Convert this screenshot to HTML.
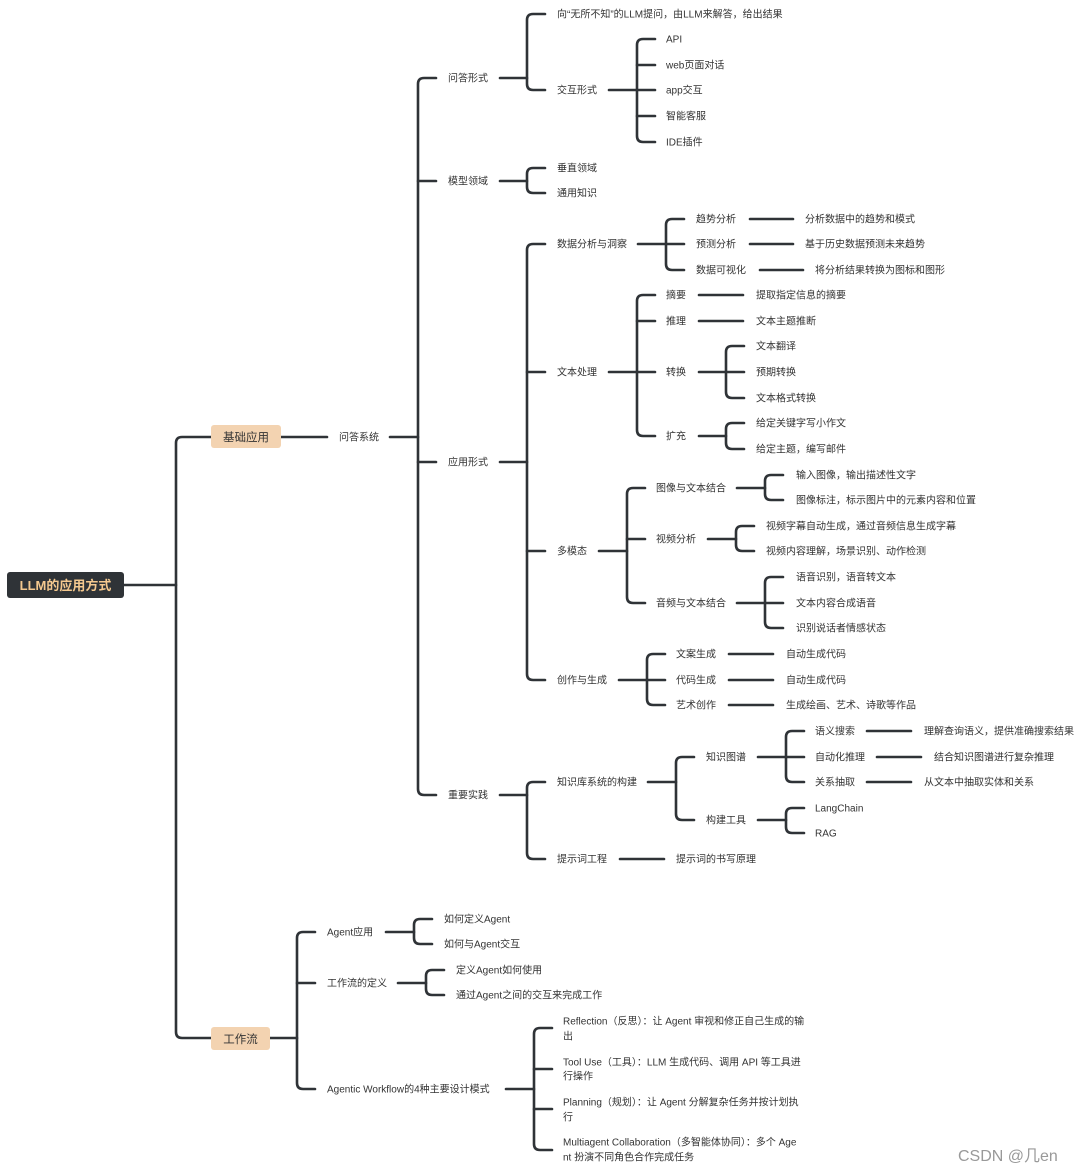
<!DOCTYPE html>
<html><head><meta charset="utf-8">
<style>
html,body{margin:0;padding:0;background:#fff;}
svg{display:block;}
text{font-family:"Liberation Sans","Noto Sans CJK SC",sans-serif;font-size:10px;fill:#333;}
</style></head>
<body>
<svg id="s" width="1080" height="1172" viewBox="0 0 1080 1172" xmlns="http://www.w3.org/2000/svg">
<g id="lines" fill="none" stroke="#2f3337" stroke-width="2.6" stroke-linecap="round"></g>
<g id="txt"></g>
<rect x="7" y="572" width="117" height="26" rx="3" fill="#2f3337"/>
<text x="65.5" y="590" text-anchor="middle" style="font-size:13px;font-weight:bold;fill:#f5c98f">LLM的应用方式</text>
<rect x="211" y="425" width="70" height="23" rx="3" fill="#f3d3b1"/>
<text x="246" y="441" text-anchor="middle" style="font-size:11.5px">基础应用</text>
<rect x="211" y="1027" width="59" height="23" rx="3" fill="#f3d3b1"/>
<text x="240.5" y="1043" text-anchor="middle" style="font-size:11.5px">工作流</text>
<text x="958" y="1161" style="font-size:16px;fill:#999">CSDN @几en</text>
</svg>
<script>
var L=document.getElementById('lines'),T=document.getElementById('txt');
var ns='http://www.w3.org/2000/svg';
function p(d){var e=document.createElementNS(ns,'path');e.setAttribute('d',d);L.appendChild(e);}
function t(x,y,s){var e=document.createElementNS(ns,'text');e.setAttribute('x',x);e.setAttribute('y',y+3.5);e.textContent=s;T.appendChild(e);}
function br(ps,py,st,ys,ce){
 p('M'+ps+','+py+'H'+st);
 var a=Math.min.apply(null,ys),b=Math.max.apply(null,ys),r=6;
 p('M'+ce+','+a+'H'+(st+r)+'Q'+st+','+a+' '+st+','+(a+r)+'V'+(b-r)+'Q'+st+','+b+' '+(st+r)+','+b+'H'+ce);
 ys.forEach(function(y){if(y!=a&&y!=b)p('M'+st+','+y+'H'+ce);});
}
function ln(a,b,y){p('M'+a+','+y+'H'+b);}
// root
br(124,585,176,[437,1038],211);
ln(281,327,437);t(339,437,'问答系统');
br(390,437,418,[78,181,462,795],436);
t(448,78,'问答形式');t(448,181,'模型领域');t(448,462,'应用形式');t(448,795,'重要实践');
br(500,78,527,[14,90],545);
t(557,14,'向“无所不知”的LLM提问，由LLM来解答，给出结果');t(557,90,'交互形式');
br(609,90,637,[39,65,90,116,142],655);
t(666,39,'API');t(666,65,'web页面对话');t(666,90,'app交互');t(666,116,'智能客服');t(666,142,'IDE插件');
br(500,181,527,[168,193],545);
t(557,168,'垂直领域');t(557,193,'通用知识');
br(500,462,527,[244,372,551,680],545);
t(557,244,'数据分析与洞察');t(557,372,'文本处理');t(557,551,'多模态');t(557,680,'创作与生成');
br(638,244,666,[219,244,270],684);
t(696,219,'趋势分析');t(696,244,'预测分析');t(696,270,'数据可视化');
ln(750,793,219);t(805,219,'分析数据中的趋势和模式');
ln(750,793,244);t(805,244,'基于历史数据预测未来趋势');
ln(760,803,270);t(815,270,'将分析结果转换为图标和图形');
br(609,372,637,[295,321,372,436],655);
t(666,295,'摘要');t(666,321,'推理');t(666,372,'转换');t(666,436,'扩充');
ln(699,743,295);t(756,295,'提取指定信息的摘要');
ln(699,743,321);t(756,321,'文本主题推断');
br(699,372,726,[346,372,398],744);
t(756,346,'文本翻译');t(756,372,'预期转换');t(756,398,'文本格式转换');
br(699,436,726,[423,449],744);
t(756,423,'给定关键字写小作文');t(756,449,'给定主题，编写邮件');
br(599,551,627,[488,539,603],645);
t(656,488,'图像与文本结合');t(656,539,'视频分析');t(656,603,'音频与文本结合');
br(737,488,765,[475,500],783);
t(796,475,'输入图像，输出描述性文字');t(796,500,'图像标注，标示图片中的元素内容和位置');
br(708,539,736,[526,551],754);
t(766,526,'视频字幕自动生成，通过音频信息生成字幕');t(766,551,'视频内容理解，场景识别、动作检测');
br(737,603,765,[577,603,628],783);
t(796,577,'语音识别，语音转文本');t(796,603,'文本内容合成语音');t(796,628,'识别说话者情感状态');
br(619,680,647,[654,680,705],665);
t(676,654,'文案生成');t(676,680,'代码生成');t(676,705,'艺术创作');
ln(729,773,654);t(786,654,'自动生成代码');
ln(729,773,680);t(786,680,'自动生成代码');
ln(729,773,705);t(786,705,'生成绘画、艺术、诗歌等作品');
br(500,795,527,[782,859],545);
t(557,782,'知识库系统的构建');t(557,859,'提示词工程');
br(648,782,676,[757,820],694);
t(706,757,'知识图谱');t(706,820,'构建工具');
br(758,757,786,[731,757,782],804);
t(815,731,'语义搜索');t(815,757,'自动化推理');t(815,782,'关系抽取');
ln(867,911,731);t(924,731,'理解查询语义，提供准确搜索结果');
ln(877,921,757);t(934,757,'结合知识图谱进行复杂推理');
ln(867,911,782);t(924,782,'从文本中抽取实体和关系');
br(758,820,786,[808,833],804);
t(815,808,'LangChain');t(815,833,'RAG');
ln(620,664,859);t(676,859,'提示词的书写原理');
// workflow
br(270,1038,297,[932,983,1089],315);
t(327,932,'Agent应用');t(327,983,'工作流的定义');t(327,1089,'Agentic Workflow的4种主要设计模式');
br(386,932,414,[919,944],432);
t(444,919,'如何定义Agent');t(444,944,'如何与Agent交互');
br(398,983,426,[970,995],444);
t(456,970,'定义Agent如何使用');t(456,995,'通过Agent之间的交互来完成工作');
br(506,1089,534,[1028,1069,1109,1150],552);
t(563,1021,'Reflection（反思）：让 Agent 审视和修正自己生成的输');t(563,1036,'出');
t(563,1062,'Tool Use（工具）：LLM 生成代码、调用 API 等工具进');t(563,1076,'行操作');
t(563,1102,'Planning（规划）：让 Agent 分解复杂任务并按计划执');t(563,1117,'行');
t(563,1142,'Multiagent Collaboration（多智能体协同）：多个 Age');t(563,1157,'nt 扮演不同角色合作完成任务');
</script>
</body></html>
